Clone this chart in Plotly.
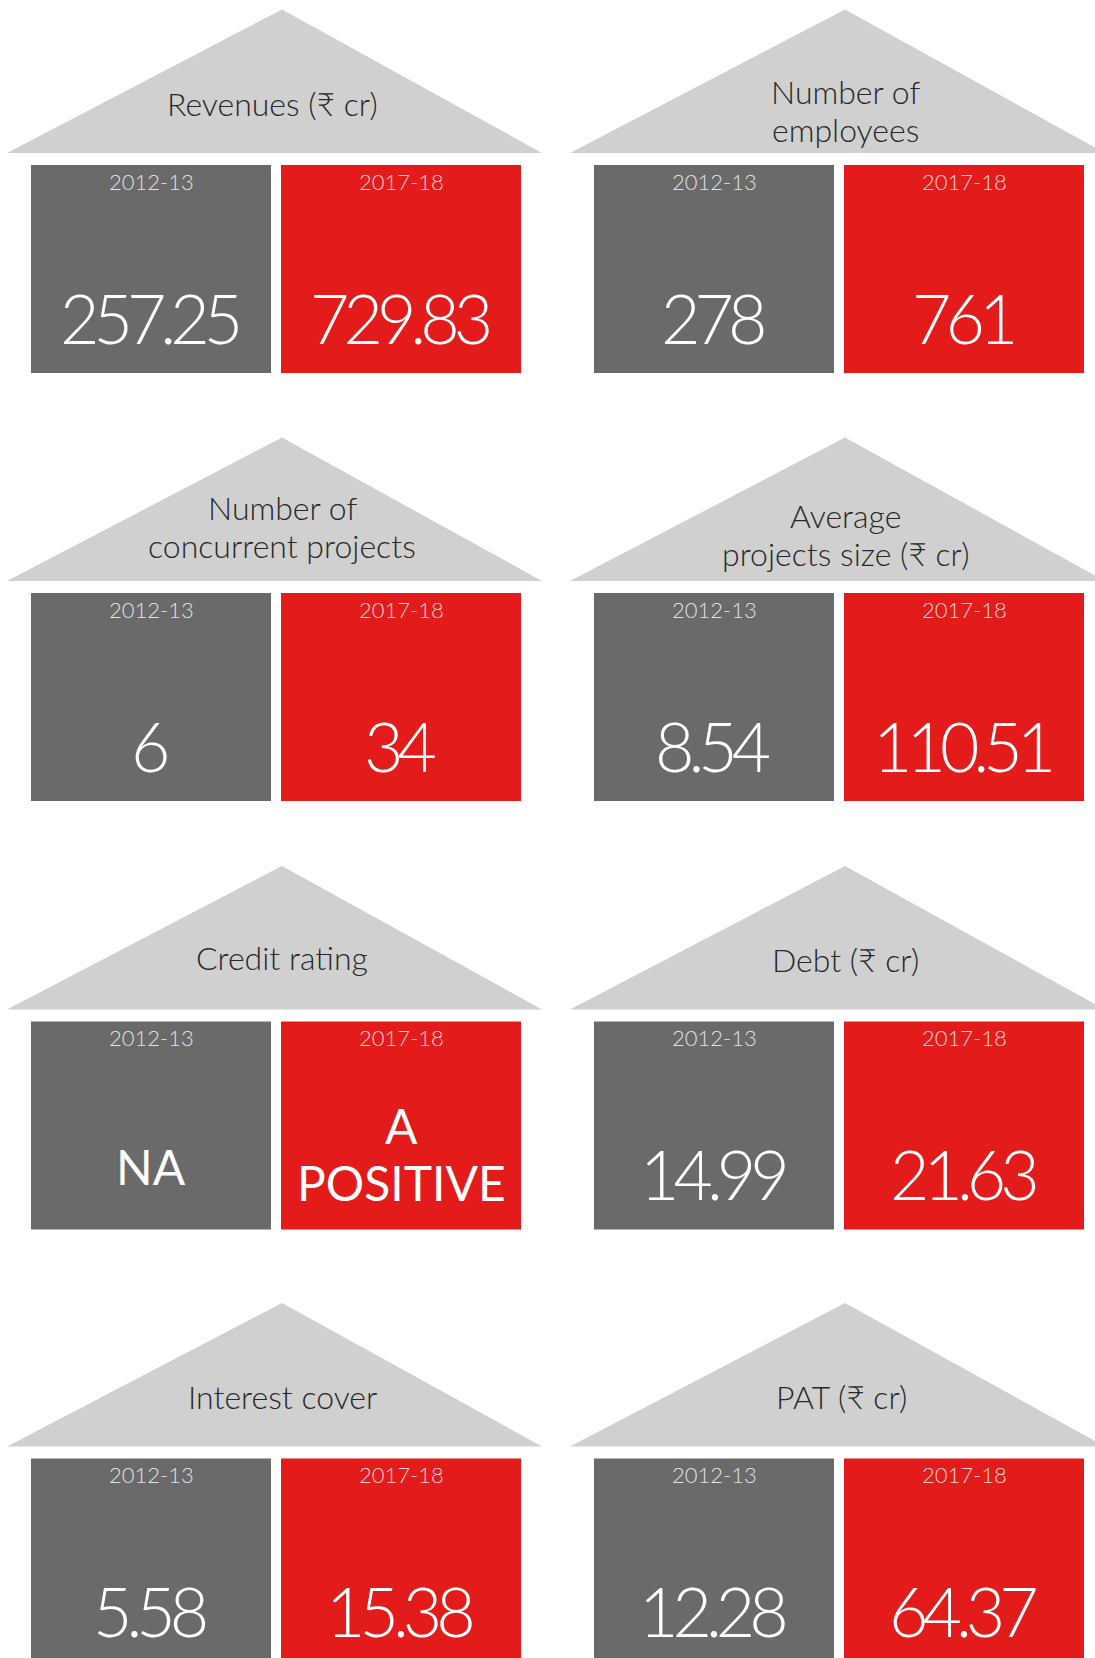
import plotly.graph_objects as go

# ---------------- data ----------------
metrics = [
    "Revenues (₹ cr)",
    "Number of<br>employees",
    "Number of<br>concurrent projects",
    "Average<br>projects size (₹ cr)",
    "Credit rating",
    "Debt (₹ cr)",
    "Interest cover",
    "PAT (₹ cr)",
]
periods = ["2012-13", "2017-18"]
values_2012_13 = ["257.25", "278", "6", "8.54", "NA", "14.99", "5.58", "12.28"]
values_2017_18 = ["729.83", "761", "34", "110.51", "A<br>POSITIVE", "21.63", "15.38", "64.37"]

# ---------------- layout / style ----------------
W, H = 1095, 1658
col_left = [31, 594]          # left edge of the first tile in each column
tile_w, tile_gap, tile_h = 240, 10, 208
row_apex = [9.5, 437.5, 866, 1303]
roof_h, roof_to_tile = 143.5, 12
roof_left, roof_right, apex_dx = 269, 266, 6
title_dy = [-50, -43, -55, -46.5, -52, -50, -50.5, -50.5]   # title block centre rel. to roof base
title_dx = [-10, 0, 0, 0, 0, 0, 0, -4]
title_line_gap = 38
tile_colors = ["#6a6a6a", "#e41b1b"]
roof_color = "#d0d0d0"
FONT = "Lato, 'Open Sans', sans-serif"

fig = go.Figure()
shapes, annotations = [], []

series = [values_2012_13, values_2017_18]

for i, title in enumerate(metrics):
    row, col = divmod(i, 2)
    x0 = col_left[col]
    cx = x0 + tile_w + tile_gap / 2
    ax = cx + apex_dx
    apex = row_apex[row]
    base = apex + roof_h
    top = base + roof_to_tile

    # roof
    shapes.append(dict(
        type="path", xref="x", yref="y",
        path=f"M {cx - roof_left},{base} L {ax},{apex} L {cx + roof_right},{base} Z",
        fillcolor=roof_color, line=dict(width=0), layer="below",
    ))
    tlines = title.split("<br>")
    n = len(tlines)
    for j, tl in enumerate(tlines):
        annotations.append(dict(
            x=ax + title_dx[i],
            y=base + title_dy[i] + (j - (n - 1) / 2) * title_line_gap,
            xref="x", yref="y", text=tl,
            showarrow=False, xanchor="center", yanchor="middle",
            font=dict(family=FONT, size=32, color="#282828", weight=300),
        ))

    for k, vals in enumerate(series):
        tx0 = x0 + k * (tile_w + tile_gap)
        tx1 = tx0 + tile_w
        tcx = (tx0 + tx1) / 2
        shapes.append(dict(
            type="rect", xref="x", yref="y",
            x0=tx0, x1=tx1, y0=top, y1=top + tile_h,
            fillcolor=tile_colors[k], line=dict(width=0), layer="below",
        ))
        annotations.append(dict(
            x=tcx, y=top + 16, xref="x", yref="y", text=periods[k],
            showarrow=False, xanchor="center", yanchor="middle",
            font=dict(family=FONT, size=22, color="rgba(255,255,255,0.82)", weight=300),
        ))
        v = vals[i]
        try:
            float(v)
            numeric = True
        except ValueError:
            numeric = False
        if numeric:
            annotations.append(dict(
                x=tcx - 2, y=top + 152, xref="x", yref="y",
                text=f'<span style="letter-spacing:-6px">{v}</span>',
                showarrow=False, xanchor="center", yanchor="middle",
                font=dict(family=FONT, size=68, color="white", weight=300),
            ))
        else:
            lines = v.split("<br>")
            offs = {1: [145], 2: [104, 161]}[len(lines)]
            for ln, dy in zip(lines, offs):
                annotations.append(dict(
                    x=tcx, y=top + dy, xref="x", yref="y", text=ln,
                    showarrow=False, xanchor="center", yanchor="middle",
                    font=dict(family=FONT, size=48, color="white", weight=400),
                ))

fig.update_layout(
    width=W, height=H,
    margin=dict(l=0, r=0, t=0, b=0),
    paper_bgcolor="white", plot_bgcolor="white",
    xaxis=dict(range=[0, W], visible=False, fixedrange=True),
    yaxis=dict(range=[H, 0], visible=False, fixedrange=True),
    shapes=shapes, annotations=annotations,
    showlegend=False,
)

fig.write_html("out.html", config={"displayModeBar": False},
               post_script="document.body.style.margin='0';")
